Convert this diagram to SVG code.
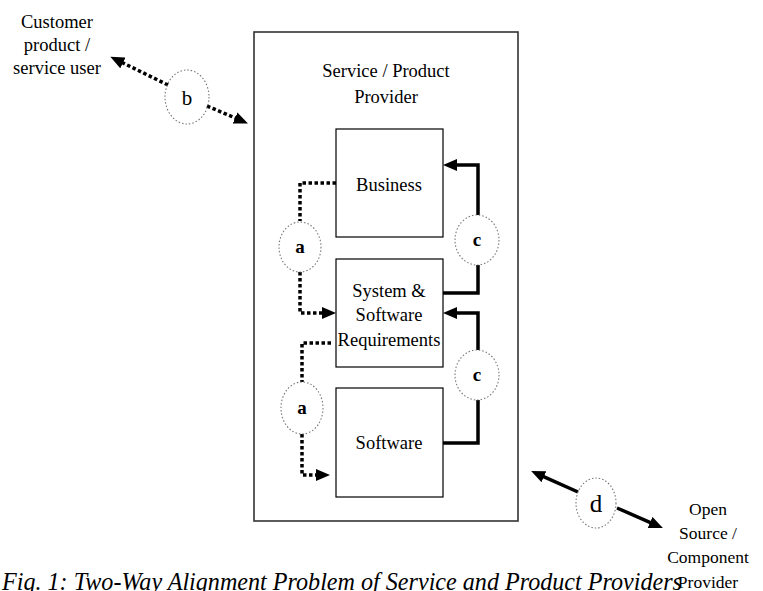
<svg xmlns="http://www.w3.org/2000/svg" width="763" height="591" viewBox="0 0 763 591">
  <style>
    text { font-family: "Liberation Serif", "Times New Roman", serif; fill: #000; }
    .lbl { font-size: 18.5px; text-anchor: middle; }
    .ext { font-size: 17.5px; text-anchor: middle; }
    .tag { font-size: 19px; font-weight: bold; text-anchor: middle; }
    .box { fill: #fff; stroke: #000; stroke-width: 1.2; }
    .frame { fill: #fff; stroke: #333; stroke-width: 1.6; }
    .ring { fill: none; stroke: #777; stroke-width: 1.1; stroke-dasharray: 1.5 2; }
    .dot { fill: none; stroke: #000; stroke-width: 3.5; stroke-dasharray: 3.5 2.5; }
    .solid { fill: none; stroke: #000; stroke-width: 3.5; }
    .caption { font-size: 25px; font-style: italic; }
  </style>
  <defs>
    <marker id="ah" viewBox="0 0 14 12" markerWidth="14" markerHeight="12" markerUnits="userSpaceOnUse" refX="1" refY="6" orient="auto">
      <path d="M0,0 L14,6 L0,12 z" fill="#000"/>
    </marker>
  </defs>

  <rect width="763" height="591" fill="#fff"/>

  <!-- provider frame -->
  <g id="provider">
    <rect class="frame" x="254" y="32" width="264" height="489"/>
    <text class="lbl" x="386" y="77">Service / Product</text>
    <text class="lbl" x="386" y="103">Provider</text>
  </g>

  <g id="business">
    <rect class="box" x="336" y="129" width="107" height="108"/>
    <text class="lbl" x="389" y="191">Business</text>
  </g>

  <g id="requirements">
    <rect class="box" x="336" y="259" width="107" height="108"/>
    <text class="lbl" x="389" y="297">System &amp;</text>
    <text class="lbl" x="389" y="321">Software</text>
    <text class="lbl" x="389" y="346">Requirements</text>
  </g>

  <g id="software">
    <rect class="box" x="336" y="388" width="107" height="109"/>
    <text class="lbl" x="389" y="449">Software</text>
  </g>

  <g id="customer">
    <text class="lbl" x="57" y="28">Customer</text>
    <text class="lbl" x="57" y="51">product /</text>
    <text class="lbl" x="57" y="74">service user</text>
  </g>

  <g id="open-source">
    <text class="ext" x="708" y="515">Open</text>
    <text class="ext" x="708" y="539">Source /</text>
    <text class="ext" x="708" y="563">Component</text>
    <text class="ext" x="708" y="588">Provider</text>
  </g>

  <!-- connectors -->
  <g id="connectors">
    <!-- a: business to requirements -->
    <path class="dot" d="M336,183 H300 V221"/>
    <path class="dot" d="M300,272 V313 H323" marker-end="url(#ah)"/>
    <!-- a: requirements to software -->
    <path class="dot" d="M331,343 H302 V382"/>
    <path class="dot" d="M302,434 V475 H317" marker-end="url(#ah)"/>
    <!-- c: requirements to business -->
    <path class="solid" d="M443,293 H478 V265"/>
    <path class="solid" d="M478,215 V165 H456" marker-end="url(#ah)"/>
    <!-- c: software to requirements -->
    <path class="solid" d="M443,443 H478 V400"/>
    <path class="solid" d="M478,350 V313 H456" marker-end="url(#ah)"/>
    <!-- b: customer link -->
    <path class="dot" d="M168,85 L122,62.5" marker-end="url(#ah)"/>
    <path class="dot" d="M207,106 L236,118.3" marker-end="url(#ah)"/>
    <!-- d: open source link -->
    <path class="solid" d="M578,492 L543,476.3" marker-end="url(#ah)"/>
    <path class="solid" d="M617,508 L651,522.8" marker-end="url(#ah)"/>

    <!-- link tags -->
    <ellipse class="ring" cx="300" cy="247" rx="21" ry="25"/>
    <text class="tag" x="300" y="253">a</text>
    <ellipse class="ring" cx="302" cy="408" rx="21" ry="26"/>
    <text class="tag" x="302" y="414">a</text>
    <ellipse class="ring" cx="477" cy="240" rx="22" ry="25"/>
    <text class="tag" x="477" y="246">c</text>
    <ellipse class="ring" cx="477" cy="375" rx="22" ry="25"/>
    <text class="tag" x="477" y="381">c</text>
    <ellipse class="ring" cx="187" cy="97" rx="22" ry="27"/>
    <text class="lbl" x="187" y="105" style="font-size:21px">b</text>
    <ellipse class="ring" cx="596" cy="503" rx="20" ry="25"/>
    <text class="lbl" x="596" y="512" style="font-size:25px">d</text>
  </g>

  <text class="caption" x="2" y="590" textLength="680" lengthAdjust="spacingAndGlyphs">Fig. 1: Two-Way Alignment Problem of Service and Product Providers</text>
</svg>
